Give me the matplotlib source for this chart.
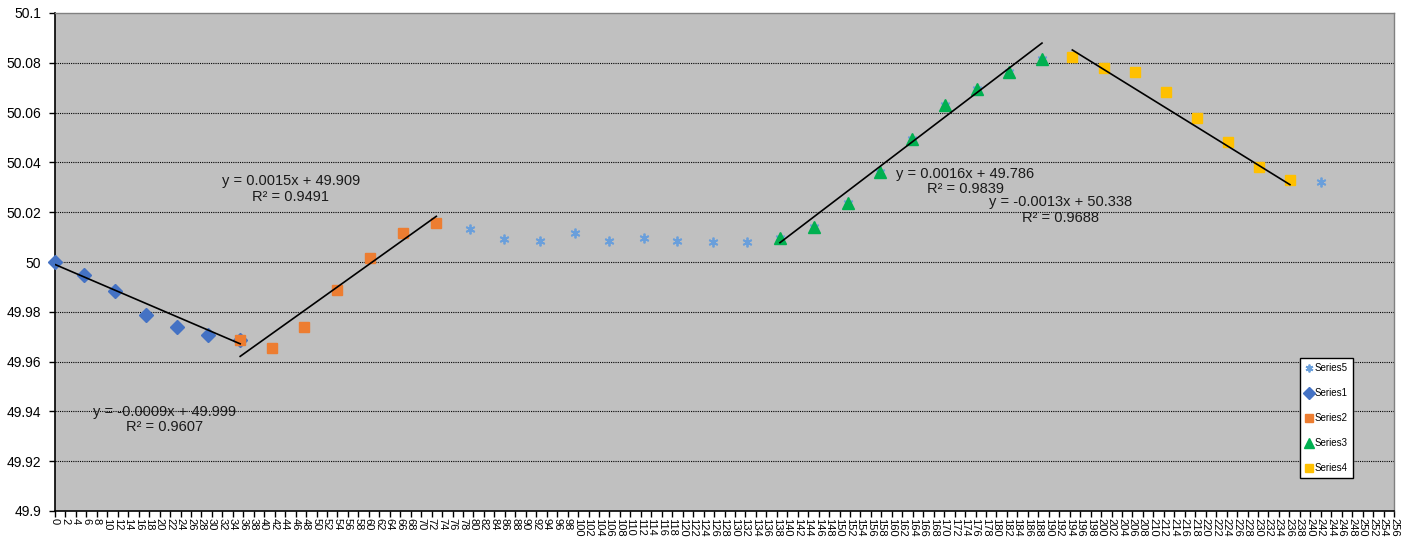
import numpy as np
import matplotlib
matplotlib.use('Agg')
import matplotlib.pyplot as plt

plt.rcParams['font.family'] = ['Liberation Sans', 'DejaVu Sans']

# 量測點 (x 與頻率)
x_pts = [0, 5.5, 11.5, 17.4, 23.3, 29.3, 35.4, 41.4, 47.6, 54.0,
         60.2, 66.5, 72.9, 79.4, 85.9, 92.7, 99.4, 105.9, 112.6, 119.0,
         125.8, 132.3, 138.6, 145.1, 151.6, 157.7, 163.9, 170.2, 176.3, 182.4,
         188.7, 194.5, 200.6, 206.5, 212.4, 218.4, 224.3, 230.2, 236.1, 242.1]
y_pts = [50.0000, 49.9948, 49.9884, 49.9787, 49.9740, 49.9707, 49.9686, 49.9656, 49.9740, 49.9888,
         50.0015, 50.0116, 50.0156, 50.0131, 50.0091, 50.0085, 50.0115, 50.0085, 50.0097, 50.0085,
         50.0081, 50.0081, 50.0095, 50.0139, 50.0235, 50.0362, 50.0492, 50.0630, 50.0694, 50.0763,
         50.0814, 50.0824, 50.0779, 50.0763, 50.0683, 50.0580, 50.0480, 50.0380, 50.0329, 50.0322]

# 各段資料範圍 (起, 迄)
seg1 = (0, 7)
seg2 = (6, 13)
seg3 = (22, 31)
seg4 = (31, 39)

# 趨勢線係數 (斜率, 截距, R²)
trend1 = (-0.0009, 49.999, 0.9607)
trend2 = (0.0015, 49.909, 0.9491)
trend3 = (0.0016, 49.786, 0.9839)
trend4 = (-0.0013, 50.338, 0.9688)

x_ticks = list(range(0, 257, 2))
y_ticks = [49.9, 49.92, 49.94, 49.96, 49.98, 50.0, 50.02, 50.04, 50.06, 50.08, 50.1]

x = np.array(x_pts)
y = np.array(y_pts)

fig = plt.figure(figsize=(14.03, 5.39), dpi=100)
ax = fig.add_axes([55 / 1403, 28 / 539, 1339 / 1403, 498 / 539])
ax.set_facecolor('#C0C0C0')

# 格線
for v in y_ticks[1:-1]:
    ax.axhline(v, color='black', lw=0.8, ls=(0, (1, 1)), zorder=1)

ax.plot(x, y, ls='none', marker=(6, 2, 0), ms=7, mew=1.3, color='#6A9FDB',
        label='Series5', zorder=3, clip_on=False)
ax.plot(x[seg1[0]:seg1[1]], y[seg1[0]:seg1[1]], ls='none', marker='D', ms=7.5,
        color='#4472C4', label='Series1', zorder=4, clip_on=False)
ax.plot(x[seg2[0]:seg2[1]], y[seg2[0]:seg2[1]], ls='none', marker='s', ms=7.5,
        color='#ED7D31', label='Series2', zorder=4, clip_on=False)
ax.plot(x[seg3[0]:seg3[1]], y[seg3[0]:seg3[1]], ls='none', marker='^', ms=8.5,
        color='#00B050', label='Series3', zorder=4, clip_on=False)
ax.plot(x[seg4[0]:seg4[1]], y[seg4[0]:seg4[1]], ls='none', marker='s', ms=6.5,
        color='#FFC000', label='Series4', zorder=4, clip_on=False)

# 趨勢線與公式
def drawTrend(seg, coef, tx, ty):
    xs = np.array([x[seg[0]], x[seg[1] - 1]])
    ax.plot(xs, coef[0] * xs + coef[1], color='black', lw=1.2, zorder=5)
    sign = '-' if coef[1] < 0 else '+'
    eq = 'y = %gx %s %g' % (coef[0], sign, abs(coef[1]))
    ax.text(tx, ty, eq + '\nR² = %.4f' % coef[2], ha='center', va='center',
            fontsize=10.5, color='#1a1a1a', linespacing=1.1, zorder=6)

drawTrend(seg1, trend1, 21.0, 49.9366)
drawTrend(seg2, trend2, 45.1, 50.0293)
drawTrend(seg3, trend3, 174.0, 50.0325)
drawTrend(seg4, trend4, 192.2, 50.0209)

ax.set_xlim(0, 256)
ax.set_ylim(49.9, 50.1)
ax.set_xticks(x_ticks)
ax.set_xticklabels([str(t) for t in x_ticks], rotation=270, fontsize=8)
ax.set_yticks(y_ticks)
ax.set_yticklabels(['%g' % t for t in y_ticks], fontsize=10)
ax.tick_params(axis='x', direction='out', length=4, width=1, pad=1)
ax.tick_params(axis='y', direction='out', length=4, width=1, pad=6)

for side in ['left', 'bottom']:
    ax.spines[side].set_color('black')
    ax.spines[side].set_linewidth(1.2)
for side in ['top', 'right']:
    ax.spines[side].set_color('#808080')
    ax.spines[side].set_linewidth(1)

leg = ax.legend(loc='upper left', bbox_to_anchor=(0.930, 0.307), borderaxespad=0,
                fontsize=7, labelspacing=1.55, handlelength=0.7, handletextpad=0.3,
                borderpad=0.5, fancybox=False, edgecolor='black', framealpha=1,
                markerscale=0.8)
leg.get_frame().set_linewidth(1)

plt.savefig('out.png', dpi=100)
